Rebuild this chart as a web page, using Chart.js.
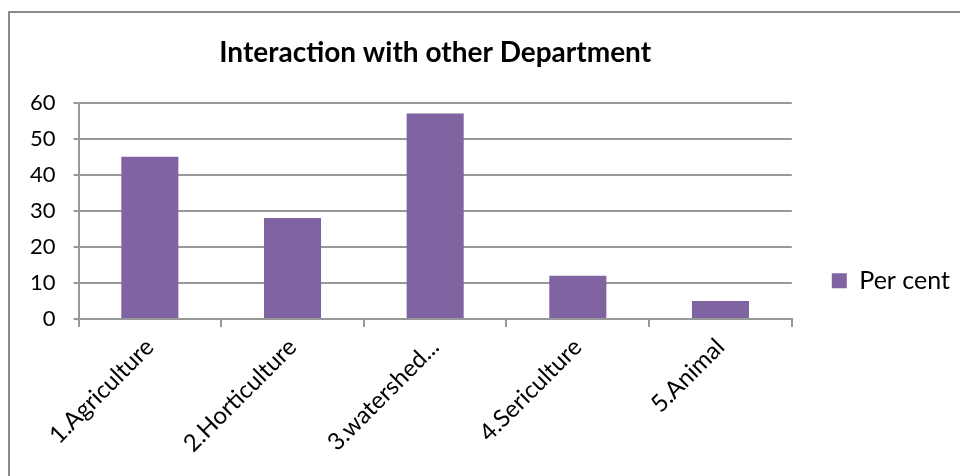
<!DOCTYPE html>
<html>
<head>
<meta charset="utf-8">
<script src="https://cdn.jsdelivr.net/npm/chart.js@4/dist/chart.umd.min.js"></script>
<style>
  html, body { margin: 0; padding: 0; background: #fff; }
  #wrap { position: relative; width: 960px; height: 476px; }
</style>
</head>
<body>
<div id="wrap"><canvas id="myDepartments"></canvas></div>
<script>
const categories = ['1.Agriculture', '2.Horticulture', '3.watershed...', '4.Sericulture', '5.Animal'];
const perCent = [45, 28, 57, 12, 5];
const yTicks = [0, 10, 20, 30, 40, 50, 60];

const FONT = 'Lato, "Open Sans", sans-serif';
const GRID = '#989898';

// outer frame of the chart object
const framePlugin = {
  id: 'frame',
  beforeDraw(chart) {
    const c = chart.ctx;
    c.save();
    c.fillStyle = '#fff';
    c.fillRect(0, 0, chart.width, chart.height);
    c.strokeStyle = '#8a8a8a';
    c.lineWidth = 2;
    c.strokeRect(9, 12, chart.width + 20, chart.height + 20);
    c.restore();
  }
};

document.addEventListener('DOMContentLoaded', () => {
  var ctx = document.getElementById('myDepartments');

  new Chart(ctx, {
    type: 'bar',
    data: {
      labels: categories,
      datasets: [
        {
          label: 'Per cent',
          data: perCent,
          backgroundColor: '#8064a2',
          barPercentage: 0.4,
          categoryPercentage: 1.0,
        },
      ],
    },
    options: {
      responsive: true,
      maintainAspectRatio: false,
      animation: false,
      layout: { padding: { left: 12, right: 0, top: 36, bottom: 12 } },
      plugins: {
        title: {
          display: true,
          fullSize: false,
          text: 'Interaction with other Department',
          color: '#000',
          font: { family: FONT, size: 28, weight: 'bold' },
          padding: { top: 0, bottom: 33 },
        },
        legend: {
          position: 'right',
          title: {
            display: true,
            text: ' ',
            font: { size: 12 },
            padding: { top: 47, bottom: 0 },
          },
          labels: {
            color: '#000',
            font: { family: FONT, size: 25 },
            boxWidth: 15,
            boxHeight: 15,
            padding: 40,
          },
        },
        tooltip: { enabled: false },
      },
      scales: {
        x: {
          offset: true,
          grid: {
            offset: true,
            drawOnChartArea: false,
            color: GRID,
            lineWidth: 2,
            tickLength: 8,
          },
          border: { color: GRID, width: 2 },
          ticks: {
            color: '#000',
            font: { family: FONT, size: 24 },
            maxRotation: 45,
            minRotation: 45,
            padding: 6,
          },
        },
        y: {
          min: 0,
          max: 60,
          afterBuildTicks: axis => {
            axis.ticks = yTicks.map(v => ({ value: v }));
          },
          grid: {
            color: GRID,
            lineWidth: 2,
            tickLength: 5,
          },
          border: { color: GRID, width: 2 },
          ticks: {
            color: '#000',
            font: { family: FONT, size: 22 },
            padding: 18,
          },
        },
      },
    },
    plugins: [framePlugin],
  });
});
</script>
</body>
</html>
